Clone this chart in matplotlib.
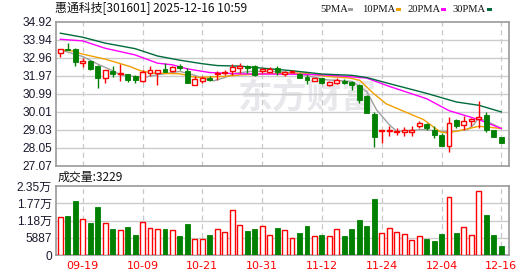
import matplotlib
matplotlib.use('Agg')
import matplotlib.pyplot as plt
import matplotlib.patches as mpatches
import numpy as np

# daily candles, 2025-09-16 .. 2025-12-16 (60 trading days)
opens = [33.20, 33.45, 33.44, 32.66, 32.80, 32.52, 31.87, 32.23, 32.05, 32.05,
         31.96, 31.69, 32.14, 32.14, 32.32, 32.23, 32.52, 32.26, 31.47, 31.67,
         31.85, 32.08, 32.12, 32.21, 32.39, 32.52, 32.53, 32.26, 32.19, 32.39,
         32.08, 32.19, 32.08, 31.89, 31.70, 31.85, 31.45, 31.58, 31.67, 31.63,
         31.45, 30.88, 29.90, 28.95, 28.96, 28.91, 28.93, 28.94, 29.25, 29.38,
         29.03, 28.78, 28.15, 29.58, 29.28, 29.54, 29.63, 29.83, 29.03, 28.62]
highs = [33.45, 33.76, 33.49, 32.95, 32.82, 32.55, 32.30, 32.50, 32.59, 32.08,
         32.03, 32.28, 32.50, 32.30, 32.68, 32.52, 32.62, 32.39, 31.94, 31.94,
         31.97, 32.26, 32.30, 32.62, 32.66, 32.57, 32.57, 32.39, 32.46, 32.48,
         32.25, 32.26, 32.15, 32.03, 31.87, 31.85, 31.70, 31.85, 31.81, 31.70,
         31.53, 30.95, 29.99, 29.05, 29.23, 29.11, 29.17, 29.27, 29.50, 29.41,
         29.23, 28.89, 29.72, 29.65, 29.77, 29.68, 30.62, 30.01, 29.05, 28.62]
lows = [32.99, 33.38, 32.50, 32.46, 32.30, 31.33, 31.60, 31.92, 31.69, 31.63,
        31.56, 31.65, 31.96, 31.50, 32.17, 32.19, 32.30, 31.58, 31.45, 31.56,
        31.67, 31.76, 32.03, 32.03, 32.15, 32.15, 31.97, 32.12, 32.17, 32.03,
        31.97, 32.12, 31.85, 31.53, 31.67, 31.53, 31.43, 31.53, 31.53, 31.20,
        30.52, 29.95, 28.09, 28.33, 28.69, 28.74, 28.69, 28.69, 29.11, 29.00,
        28.60, 28.15, 27.84, 29.16, 29.05, 29.23, 29.14, 28.93, 28.63, 28.33]
closes = [33.42, 33.40, 32.75, 32.79, 32.37, 31.87, 32.28, 32.08, 32.14, 31.76,
          31.72, 32.18, 32.28, 32.28, 32.19, 32.47, 32.39, 31.58, 31.80, 31.85,
          31.76, 32.15, 32.19, 32.45, 32.48, 32.42, 32.03, 32.34, 32.37, 32.19,
          32.19, 32.22, 31.85, 31.76, 31.83, 31.58, 31.65, 31.76, 31.60, 31.45,
          30.68, 29.95, 28.63, 29.00, 29.05, 28.96, 29.05, 29.01, 29.39, 29.11,
          28.78, 28.15, 29.41, 29.27, 29.54, 29.65, 29.74, 29.05, 28.63, 28.33]
volumes = [12870, 13310, 18430, 12180, 10920, 16380, 10820, 8870, 8430, 9560,
           6830, 11160, 9110, 8770, 8870, 8430, 6480, 10580, 5360, 5360,
           6830, 8770, 7750, 15260, 10140, 8190, 8870, 9800, 6720, 9220,
           8430, 5700, 7510, 9900, 6380, 6830, 6380, 8770, 6480, 8870,
           11950, 9900, 19110, 7410, 9110, 7750, 7060, 5020, 6380, 5460,
           4780, 7170, 19690, 7510, 9450, 6720, 21740, 13650, 6830, 3229]

# moving averages at these bar positions
ma5_idx = [0, 3, 5, 7, 8, 11, 13, 16, 18, 19, 20.5, 22, 23.5, 25.5, 29, 31.5, 33.5,
           35.5, 39, 41, 42.3, 44, 45, 48.5, 51, 52, 54.5, 55.3, 56, 58, 59]
ma5 = [33.38, 33.02, 32.61, 32.25, 32.03, 31.88, 32.03, 32.21, 32.00, 31.85, 31.70, 31.88,
       32.12, 32.21, 32.21, 32.12, 31.94, 31.76, 31.67, 31.12, 30.13, 29.32, 28.96,
       29.05, 28.96, 28.93, 29.05, 29.32, 29.68, 29.32, 29.11]
ma10_idx = [0, 1.5, 3, 6, 9.3, 10.7, 12.4, 16, 18.2, 21.8, 24.5, 27.2, 30.7, 32.5,
            35.6, 38.8, 40.1, 41.8, 43.6, 46.2, 48.6, 50.8, 51.7, 53.5, 56, 59]
ma10 = [33.38, 33.33, 33.15, 32.88, 32.48, 32.25, 32.12, 32.08, 31.88, 31.94, 32.03,
        32.08, 32.12, 32.12, 31.94, 31.85, 31.72, 31.05, 30.45, 30.00, 29.59, 28.93,
        28.87, 29.00, 29.23, 29.11]
ma20_idx = [0, 3, 6, 10, 13, 15, 17, 20, 24, 31, 35, 38, 41, 44, 49, 52, 56, 59]
ma20 = [33.96, 33.87, 33.47, 33.11, 32.66, 32.57, 32.35, 32.15, 32.08, 32.06, 32.03,
        31.95, 31.85, 31.40, 30.73, 30.08, 29.59, 29.11]
ma30_idx = [0, 3, 6, 10, 13, 16, 19, 21, 24, 27, 31, 35, 39, 41, 44, 49, 53, 56, 59]
ma30 = [34.29, 34.07, 33.75, 33.45, 33.05, 32.82, 32.63, 32.53, 32.50, 32.39, 32.25,
        32.07, 32.00, 31.88, 31.55, 31.02, 30.55, 30.37, 30.01]

date_idx = [3, 11, 19, 27, 35, 43, 51, 59]
date_labels = ['09-19', '10-09', '10-21', '10-31', '11-12', '11-24', '12-04', '12-16']
price_ticks = [27.07, 28.05, 29.03, 30.01, 30.99, 31.97, 32.96, 33.94, 34.92]
price_labels = ['27.07', '28.05', '29.03', '30.01', '30.99', '31.97', '32.96', '33.94', '34.92']
vol_ticks = [0, 5887, 11774, 17661, 23548]
vol_labels = ['0', '5887', '1.18万', '1.77万', '2.35万']

RED = '#ff0000'
GREEN = '#008000'
MA_COLORS = ['#a0a0a0', '#f0a000', '#ff00ff', '#006b3c']
FRAME = '#9a9a9a'
GRID = '#cccccc'
TICK_FONT = ['Liberation Sans', 'Noto Sans CJK SC']

W, H = 530, 276
fig = plt.figure(figsize=(W / 100, H / 100), dpi=100)
fig.patch.set_facecolor('white')


def px_axes(left, top, right, bottom):
    return fig.add_axes([left / W, 1 - bottom / H, (right - left) / W, (bottom - top) / H])


ax = px_axes(56, 21.6, 509, 166)
axv = px_axes(56, 186, 509, 255)

n = len(closes)
body_w = 0.66

for a in (ax, axv):
    a.set_xlim(-0.58, 60.03)
    for s in a.spines.values():
        s.set_color(FRAME)
        s.set_linewidth(1.2)
    a.set_xticks([])
    a.tick_params(axis='y', length=0, pad=3, labelsize=8.6, labelcolor='#1a1a2e')
    for d in date_idx:
        a.axvline(d, color='#c8c8c8', lw=0.9, ls=(0, (4, 3)), zorder=1)

# price panel
ax.set_ylim(price_ticks[0], price_ticks[-1])
ax.set_yticks(price_ticks)
ax.set_yticklabels(price_labels, family=TICK_FONT)
for t in price_ticks[1:-1]:
    ax.axhline(t, color=GRID, lw=1, zorder=1)

# faint watermark
ax.text(0.555, 0.48, '东方财富', family='Noto Sans CJK SC', fontsize=25, fontweight='bold',
        color='#e8e8ec', ha='center', va='center', zorder=0.5, transform=ax.transAxes)

for idx, vals, c in zip([ma5_idx, ma10_idx, ma20_idx, ma30_idx], [ma5, ma10, ma20, ma30], MA_COLORS):
    ax.plot(idx, vals, color=c, lw=1, zorder=2)

for i in range(n):
    o, h, l, c = opens[i], highs[i], lows[i], closes[i]
    top, bot = max(o, c), min(o, c)
    if c >= o:
        ax.vlines(i, top, h, color=RED, lw=1, zorder=3)
        ax.vlines(i, l, bot, color=RED, lw=1, zorder=3)
        ax.bar(i, max(top - bot, 0.001), bottom=bot, width=body_w, facecolor='white',
               edgecolor=RED, lw=1, zorder=4)
    else:
        ax.vlines(i, l, h, color=GREEN, lw=1, zorder=3)
        ax.bar(i, top - bot, bottom=bot, width=body_w, color=GREEN, lw=0.6,
               edgecolor=GREEN, zorder=4)

# volume panel
axv.set_ylim(vol_ticks[0], vol_ticks[-1])
axv.set_yticks(vol_ticks)
axv.set_yticklabels(vol_labels, family=TICK_FONT)
for t in vol_ticks[1:-1]:
    axv.axhline(t, color=GRID, lw=1, zorder=1)
for i in range(n):
    if closes[i] >= opens[i]:
        axv.bar(i, volumes[i], width=body_w, facecolor='white', edgecolor=RED, lw=1, zorder=3)
    else:
        axv.bar(i, volumes[i], width=body_w, color=GREEN, edgecolor=GREEN, lw=0.6, zorder=3)

for d, lab in zip(date_idx, date_labels):
    axv.text(d, -0.16, lab, transform=axv.get_xaxis_transform(), ha='center', va='center',
             color=RED, fontsize=8, family='DejaVu Sans')

# header texts
fig.text(55 / W, 1 - 9 / H, '惠通科技[301601] 2025-12-16 10:59',
         family=['Noto Sans CJK SC', 'DejaVu Sans'], fontsize=8.6, color='#111111',
         ha='left', va='center')
fig.text(58 / W, 1 - 177 / H, '成交量:' + str(volumes[-1]),
         family=['Noto Sans CJK SC', 'DejaVu Sans'], fontsize=8.6, color='#111111',
         ha='left', va='center')

legend_names = ['5PMA', '10PMA', '20PMA', '30PMA']
legend_x = [320.5, 362.5, 407, 452.5]
square_x = [348, 395.5, 441, 486.5]
for name, tx, sx, c in zip(legend_names, legend_x, square_x, MA_COLORS):
    fig.text(tx / W, 1 - 9 / H, name, family='Liberation Serif', fontsize=7.6,
             color='#111111', ha='left', va='center')
    fig.patches.append(mpatches.Rectangle((sx / W, 1 - 11 / H), 5 / W, 3 / H,
                                          transform=fig.transFigure, facecolor=c,
                                          edgecolor='none'))

fig.savefig('out.png', dpi=100, facecolor='white')
